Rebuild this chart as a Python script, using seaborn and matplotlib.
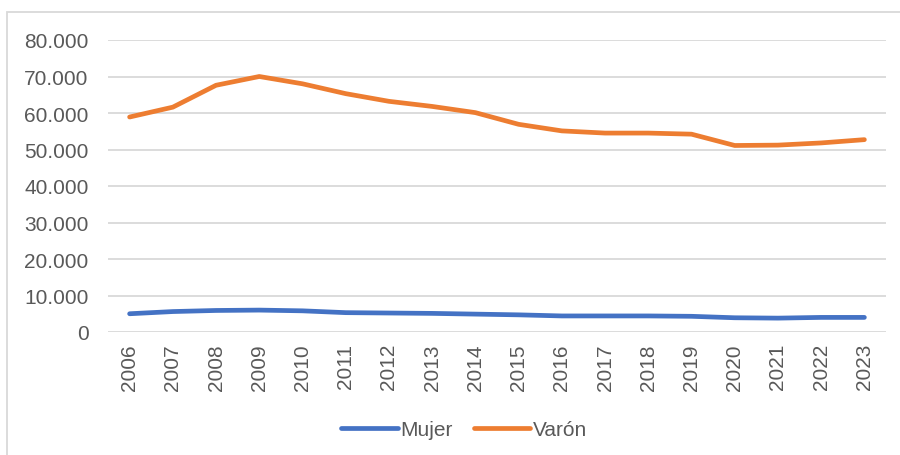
import matplotlib
matplotlib.use("Agg")
import matplotlib.pyplot as plt
import seaborn as sns
import pandas as pd
from matplotlib.patches import Rectangle
from matplotlib.ticker import FuncFormatter

years = [str(y) for y in range(2006, 2024)]
mujer = [5000, 5600, 5900, 6000, 5800, 5300, 5200, 5100, 4900, 4700,
         4400, 4400, 4400, 4300, 3900, 3800, 4000, 4000]
varon = [58900, 61600, 67600, 70000, 68000, 65300, 63200, 61800, 60100, 56900,
         55100, 54500, 54500, 54200, 51100, 51200, 51800, 52700]
series = ["Mujer", "Varón"]
colors = ["#4472C4", "#ED7D31"]
yticks = [0, 10000, 20000, 30000, 40000, 50000, 60000, 70000, 80000]

df = pd.DataFrame({
    "year": years * 2,
    "value": mujer + varon,
    "serie": [series[0]] * len(years) + [series[1]] * len(years),
})

sns.set_theme(style="white")
plt.rcParams["font.family"] = ["Liberation Sans", "DejaVu Sans"]

fig = plt.figure(figsize=(9, 4.56), dpi=100)
ax = fig.add_axes([108 / 900, 1 - 333 / 456, (886 - 108) / 900, (333 - 41) / 456])

sns.lineplot(data=df, x="year", y="value", hue="serie", palette=colors,
             linewidth=3.4, ax=ax, sort=False, legend=True)
for ln in ax.lines:
    ln.set_solid_capstyle("round")
    ln.set_solid_joinstyle("round")

ax.set_xlim(-0.5, len(years) - 0.5)
ax.set_ylim(0, 80000)
ax.set_yticks(yticks)
ax.yaxis.set_major_formatter(FuncFormatter(lambda v, p: f"{int(v):,}".replace(",", ".")))
ax.grid(axis="y", color="#D9D9D9", linewidth=1.3)
ax.set_axisbelow(True)
for s in ax.spines.values():
    s.set_visible(False)
ax.tick_params(axis="both", length=0, labelsize=15, colors="#595959")
ax.tick_params(axis="y", pad=14)
ax.tick_params(axis="x", pad=8)
plt.setp(ax.get_xticklabels(), rotation=90)
ax.set_xlabel("")
ax.set_ylabel("")

handles, labels = ax.get_legend_handles_labels()
ax.legend_.remove()
leg = fig.legend(handles, labels, loc="center", bbox_to_anchor=(0.516, 1 - 431 / 456),
                 ncol=2, frameon=False, fontsize=15, handlelength=2.7,
                 handletextpad=0.15, columnspacing=1.0)
for t in leg.get_texts():
    t.set_color("#595959")
for h in leg.get_lines():
    h.set_linewidth(3.4)
    h.set_solid_capstyle("round")

fig.patches.append(Rectangle((7 / 900, -0.1), 1.2, (1 - 13 / 456) + 0.1,
                             transform=fig.transFigure, fill=False,
                             edgecolor="#D9D9D9", linewidth=1.3))

fig.savefig("out.png", dpi=100)
